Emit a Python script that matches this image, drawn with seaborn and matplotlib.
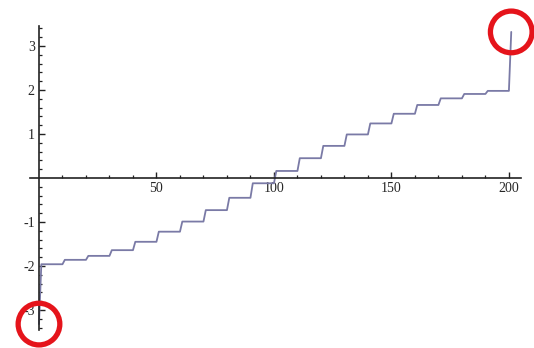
import matplotlib
matplotlib.use("Agg")
import matplotlib.pyplot as plt
from matplotlib import ticker
import seaborn as sns
import numpy as np

# step levels, each held for 10 samples
levels = [-1.96, -1.86, -1.77, -1.64, -1.45, -1.22, -0.99, -0.73, -0.45, -0.12,
          0.16, 0.45, 0.73, 0.99, 1.24, 1.46, 1.66, 1.81, 1.91, 1.98]
step_len = 10
y_first = -3.32
y_last = 3.32

x_major = [50, 100, 150, 200]
x_minor = [10, 20, 30, 40, 60, 70, 80, 90, 110, 120, 130, 140, 160, 170, 180, 190]
y_major = [-3, -2, -1, 1, 2, 3]

y_vals = np.concatenate([[y_first], np.repeat(levels, step_len), [y_last]])
x_vals = np.arange(len(y_vals))
ends_x = [x_vals[0], x_vals[-1]]
ends_y = [y_vals[0], y_vals[-1]]

sns.set_style('white')
plt.rcParams['font.family'] = ['Liberation Serif', 'DejaVu Serif']
plt.rcParams['axes.unicode_minus'] = False

fig = plt.figure(figsize=(5.34, 3.48), dpi=100)
ax = fig.add_axes([0.0554, 0.0523, 0.9196, 0.8724])

sns.lineplot(x=x_vals, y=y_vals, ax=ax, estimator=None, sort=False,
             color='#7a7aa6', linewidth=1.3)

ax.scatter(ends_x, ends_y, s=900, facecolors='none', edgecolors='#e5141b',
           linewidths=3.8, clip_on=False, zorder=5)

ax.set_xlim(-4, 205)
ax.set_ylim(-3.45, 3.45)

for side in ['top', 'right']:
    ax.spines[side].set_visible(False)
ax.spines['left'].set_position(('data', 0))
ax.spines['bottom'].set_position(('data', 0))
for side in ['left', 'bottom']:
    ax.spines[side].set_color('#222222')
    ax.spines[side].set_linewidth(1.2)

ax.xaxis.set_major_locator(ticker.FixedLocator(x_major))
ax.xaxis.set_minor_locator(ticker.FixedLocator(x_minor))
ax.yaxis.set_major_locator(ticker.FixedLocator(y_major))
ax.yaxis.set_minor_locator(ticker.FixedLocator(
    [v / 5 for v in range(-17, 18) if v % 5 != 0]))

ax.tick_params(which='major', direction='in', length=4.5, width=1.0,
               color='#222222', labelsize=10, pad=3, bottom=True, left=True)
ax.tick_params(which='minor', direction='in', length=2.3, width=0.9,
               color='#222222', bottom=True, left=True)
ax.set_xlabel('')
ax.set_ylabel('')
ax.grid(False)

fig.savefig('out.png', dpi=100)
plt.close(fig)
